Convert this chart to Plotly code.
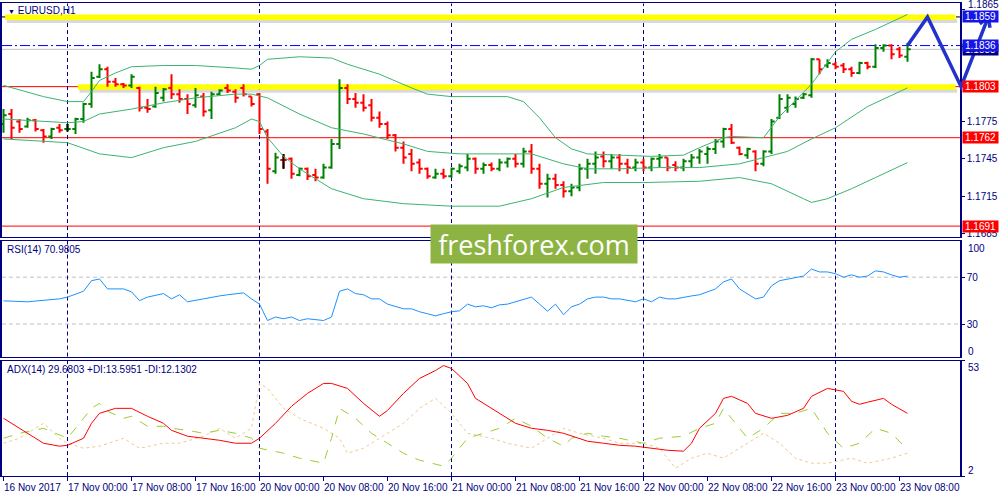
import math
import plotly.graph_objects as go

# ---------------- data ----------------
bar_idx = list(range(114))
opens = [1.1773, 1.1781, 1.1775, 1.1771, 1.1776, 1.1768, 1.1763, 1.1770, 1.1769, 1.1769,
         1.1777, 1.1789, 1.1811, 1.1817, 1.1807, 1.1805, 1.1804, 1.1802, 1.1786, 1.1787,
         1.1794, 1.1802, 1.1797, 1.1793, 1.1788, 1.1795, 1.1784, 1.1797, 1.1802, 1.1799,
         1.1802, 1.1795, 1.1797, 1.1767, 1.1735, 1.1744, 1.1745, 1.1732, 1.1737, 1.1732,
         1.1730, 1.1738, 1.1757, 1.1802, 1.1793, 1.1790, 1.1788, 1.1778, 1.1773, 1.1764,
         1.1754, 1.1749, 1.1742, 1.1737, 1.1730, 1.1733, 1.1731, 1.1735, 1.1738, 1.1745,
         1.1737, 1.1740, 1.1737, 1.1742, 1.1745, 1.1741, 1.1751, 1.1737, 1.1725, 1.1729,
         1.1724, 1.1719, 1.1722, 1.1737, 1.1741, 1.1747, 1.1743, 1.1746, 1.1741, 1.1738,
         1.1742, 1.1738, 1.1745, 1.1746, 1.1740, 1.1738, 1.1743, 1.1746, 1.1749, 1.1753,
         1.1759, 1.1769, 1.1754, 1.1748, 1.1751, 1.1741, 1.1751, 1.1778, 1.1786, 1.1789,
         1.1794, 1.1796, 1.1825, 1.1820, 1.1821, 1.1820, 1.1817, 1.1814, 1.1822, 1.1819,
         1.1834, 1.1836, 1.1833, 1.1827]
highs = [1.1785, 1.1785, 1.1777, 1.1778, 1.1777, 1.1769, 1.1770, 1.1773, 1.1773, 1.1778,
         1.1790, 1.1815, 1.1821, 1.1819, 1.1810, 1.1806, 1.1813, 1.1803, 1.1793, 1.1803,
         1.1802, 1.1813, 1.1801, 1.1797, 1.1802, 1.1798, 1.1799, 1.1801, 1.1805, 1.1801,
         1.1805, 1.1795, 1.1798, 1.1769, 1.1750, 1.1749, 1.1746, 1.1738, 1.1738, 1.1737,
         1.1741, 1.1761, 1.1809, 1.1805, 1.1798, 1.1797, 1.1793, 1.1783, 1.1775, 1.1765,
         1.1759, 1.1753, 1.1745, 1.1738, 1.1737, 1.1737, 1.1738, 1.1741, 1.1749, 1.1746,
         1.1742, 1.1742, 1.1745, 1.1746, 1.1749, 1.1754, 1.1757, 1.1741, 1.1733, 1.1733,
         1.1727, 1.1725, 1.1741, 1.1745, 1.1751, 1.1751, 1.1749, 1.1749, 1.1745, 1.1745,
         1.1745, 1.1746, 1.1749, 1.1746, 1.1743, 1.1745, 1.1749, 1.1753, 1.1755, 1.1761,
         1.1770, 1.1773, 1.1755, 1.1754, 1.1752, 1.1752, 1.1777, 1.1797, 1.1797, 1.1795,
         1.1798, 1.1826, 1.1825, 1.1825, 1.1823, 1.1822, 1.1819, 1.1823, 1.1823, 1.1837,
         1.1837, 1.1837, 1.1835, 1.1838]
lows = [1.1766, 1.1761, 1.1766, 1.1770, 1.1767, 1.1758, 1.1761, 1.1766, 1.1767, 1.1765,
        1.1774, 1.1786, 1.1810, 1.1803, 1.1803, 1.1802, 1.1802, 1.1783, 1.1782, 1.1786,
        1.1791, 1.1793, 1.1790, 1.1781, 1.1786, 1.1779, 1.1777, 1.1796, 1.1798, 1.1790,
        1.1795, 1.1787, 1.1765, 1.1725, 1.1733, 1.1737, 1.1729, 1.1731, 1.1728, 1.1727,
        1.1729, 1.1737, 1.1753, 1.1789, 1.1786, 1.1783, 1.1775, 1.1770, 1.1761, 1.1751,
        1.1741, 1.1735, 1.1733, 1.1729, 1.1729, 1.1729, 1.1730, 1.1733, 1.1735, 1.1733,
        1.1733, 1.1735, 1.1735, 1.1738, 1.1738, 1.1738, 1.1733, 1.1721, 1.1714, 1.1721,
        1.1714, 1.1715, 1.1719, 1.1729, 1.1733, 1.1738, 1.1737, 1.1735, 1.1733, 1.1735,
        1.1735, 1.1735, 1.1738, 1.1735, 1.1735, 1.1735, 1.1738, 1.1741, 1.1741, 1.1749,
        1.1754, 1.1757, 1.1748, 1.1745, 1.1735, 1.1739, 1.1749, 1.1777, 1.1782, 1.1786,
        1.1793, 1.1794, 1.1813, 1.1818, 1.1817, 1.1814, 1.1811, 1.1813, 1.1817, 1.1818,
        1.1831, 1.1825, 1.1826, 1.1823]
closes = [1.1780, 1.1770, 1.1769, 1.1776, 1.1769, 1.1763, 1.1769, 1.1768, 1.1769, 1.1777,
          1.1789, 1.1810, 1.1817, 1.1807, 1.1805, 1.1804, 1.1811, 1.1786, 1.1785, 1.1798,
          1.1801, 1.1797, 1.1793, 1.1789, 1.1796, 1.1783, 1.1797, 1.1800, 1.1800, 1.1794,
          1.1797, 1.1789, 1.1769, 1.1737, 1.1746, 1.1744, 1.1733, 1.1737, 1.1731, 1.1730,
          1.1738, 1.1757, 1.1802, 1.1793, 1.1790, 1.1786, 1.1778, 1.1773, 1.1764, 1.1754,
          1.1746, 1.1741, 1.1737, 1.1731, 1.1733, 1.1731, 1.1737, 1.1739, 1.1745, 1.1737,
          1.1740, 1.1737, 1.1742, 1.1745, 1.1741, 1.1751, 1.1737, 1.1725, 1.1729, 1.1724,
          1.1719, 1.1722, 1.1737, 1.1741, 1.1746, 1.1743, 1.1746, 1.1741, 1.1738, 1.1742,
          1.1738, 1.1745, 1.1746, 1.1738, 1.1738, 1.1743, 1.1746, 1.1751, 1.1753, 1.1759,
          1.1769, 1.1758, 1.1749, 1.1753, 1.1741, 1.1751, 1.1775, 1.1793, 1.1794, 1.1793,
          1.1797, 1.1825, 1.1817, 1.1822, 1.1819, 1.1817, 1.1814, 1.1822, 1.1819, 1.1834,
          1.1836, 1.1829, 1.1828, 1.1833]

bb_up_idx = [0, 5, 8, 10, 11, 12, 14, 16, 20, 24, 29, 31, 32, 33, 37, 41, 43, 47, 51, 53,
             56, 63, 65, 67, 69, 71, 73, 81, 85, 87, 90, 91, 95, 97, 101, 104, 106, 109, 113]
bb_up = [1.1804, 1.1795, 1.1791, 1.1791, 1.1799, 1.1808, 1.1814, 1.1819, 1.1820, 1.1820,
         1.1818, 1.1817, 1.1820, 1.1825, 1.1827, 1.1826, 1.1821, 1.1813, 1.1802, 1.1797,
         1.1795, 1.1795, 1.1791, 1.1778, 1.1762, 1.1753, 1.1749, 1.1747, 1.1748, 1.1754,
         1.1762, 1.1763, 1.1762, 1.1779, 1.1805, 1.1831, 1.1841, 1.1849, 1.1861]
bb_mid_idx = [0, 8, 10, 12, 16, 20, 24, 29, 31, 33, 37, 41, 45, 50, 53, 57, 62, 66, 70, 73,
              77, 82, 87, 92, 95, 98, 101, 104, 108, 113]
bb_mid = [1.1777, 1.1774, 1.1775, 1.1781, 1.1785, 1.1790, 1.1794, 1.1797, 1.1797, 1.1794,
          1.1781, 1.1770, 1.1765, 1.1757, 1.1751, 1.1749, 1.1749, 1.1749, 1.1741, 1.1737,
          1.1737, 1.1738, 1.1738, 1.1741, 1.1746, 1.1751, 1.1761, 1.1770, 1.1787, 1.1802]
bb_lo_idx = [0, 8, 12, 16, 20, 24, 29, 31, 32, 33, 35, 37, 41, 45, 50, 56, 62, 66, 70, 75,
             80, 87, 92, 96, 100, 101, 103, 106, 109, 113]
bb_lo = [1.1761, 1.1758, 1.1749, 1.1746, 1.1754, 1.1759, 1.1770, 1.1777, 1.1775, 1.1762,
         1.1747, 1.1737, 1.1721, 1.1713, 1.1709, 1.1707, 1.1707, 1.1713, 1.1722, 1.1726,
         1.1726, 1.1727, 1.1730, 1.1725, 1.1713, 1.1710, 1.1713, 1.1721, 1.1730, 1.1742]

# RSI(14)
rsi_idx = [0, 3, 7, 8, 10, 11, 12, 13, 15, 16, 17, 18, 20, 21, 22, 23, 25, 26, 27, 28,
           30, 31, 32, 33, 34, 35, 36, 37, 38, 40, 41, 42, 43, 44, 45, 46, 47, 48, 49, 50,
           51, 52, 53, 54, 55, 56, 57, 58, 59, 60, 61, 62, 63, 64, 65, 66, 67, 68, 69, 70,
           71, 72, 73, 74, 75, 76, 77, 78, 79, 80, 81, 82, 83, 84, 85, 86, 87, 88, 89, 90,
           91, 92, 93, 94, 95, 96, 97, 98, 99, 100, 101, 102, 103, 104, 105, 106, 107, 108,
           109, 110, 111, 112, 113]
rsi_val = [49.8, 49.0, 51.5, 53.0, 58.0, 67.0, 68.5, 60.0, 60.0, 57.5, 50.0, 53.0, 56.0,
           51.5, 55.0, 49.0, 51.5, 53.0, 54.0, 55.0, 56.6, 51.5, 47.0, 33.0, 36.0, 34.5,
           36.0, 33.0, 34.5, 33.0, 36.0, 58.0, 60.0, 56.0, 55.0, 51.5, 51.5, 47.0, 44.7,
           43.0, 43.0, 40.5, 38.8, 37.0, 38.8, 40.5, 41.3, 47.0, 44.7, 45.6, 43.9, 46.4,
           47.0, 49.0, 51.5, 53.0, 47.0, 41.0, 47.0, 38.0, 44.7, 47.0, 51.5, 53.0, 53.0,
           51.5, 51.5, 50.0, 49.0, 51.5, 49.0, 53.0, 51.5, 51.5, 53.0, 54.0, 55.0, 57.5,
           60.0, 66.0, 68.5, 60.0, 56.0, 51.5, 53.0, 62.6, 67.0, 68.5, 70.0, 71.0, 77.0,
           74.5, 74.5, 73.0, 70.0, 72.0, 70.0, 71.0, 75.4, 74.5, 72.0, 70.0, 70.9805]

# ADX(14), +DI, -DI
adx_idx = [0, 2, 5, 7, 8, 10, 11, 12, 14, 16, 18, 20, 21, 23, 25, 27, 29, 31, 32, 34,
           36, 38, 40, 41, 43, 45, 47, 48, 50, 52, 54, 55, 56, 58, 59, 61, 63, 64, 66, 68,
           70, 72, 73, 75, 77, 79, 81, 83, 85, 86, 87, 89, 90, 91, 93, 94, 96, 98, 100,
           101, 103, 105, 106, 107, 108, 110, 111, 113]
adx_val = [27.5, 23.1, 16.5, 15.2, 15.6, 18.7, 25.3, 29.7, 31.9, 31.9, 28.4, 25.3, 22.2,
           19.6, 18.7, 17.8, 16.5, 16.5, 18.7, 25.3, 32.8, 38.5, 42.9, 42.9, 40.7, 34.1,
           28.4, 31.0, 38.5, 45.1, 48.6, 50.8, 49.5, 42.9, 36.3, 31.9, 27.5, 25.3, 23.1,
           22.2, 20.9, 18.7, 17.4, 16.5, 15.6, 15.2, 14.3, 13.4, 13.0, 16.5, 23.1, 29.7,
           36.3, 37.2, 34.1, 29.7, 27.5, 28.8, 31.9, 37.2, 40.7, 39.4, 35.0, 33.7, 34.6,
           36.3, 33.7, 29.6803]
pdi_idx = [0, 2, 5, 8, 10, 11, 12, 13, 15, 16, 18, 20, 21, 23, 25, 27, 29, 31, 32, 35,
           37, 40, 41, 42, 44, 46, 48, 50, 52, 55, 56, 58, 60, 62, 64, 66, 68, 70, 71, 73,
           75, 77, 80, 82, 85, 87, 89, 90, 91, 93, 95, 97, 99, 101, 103, 105, 107, 109,
           111, 113]
pdi_val = [18.7, 20.9, 23.1, 18.7, 27.5, 31.9, 34.1, 30.6, 27.5, 28.4, 24.0, 24.0, 23.1,
           22.2, 20.9, 22.2, 20.9, 18.7, 14.3, 12.1, 9.9, 7.7, 18.7, 31.9, 27.5, 20.9, 16.5,
           12.1, 9.0, 6.4, 9.9, 18.7, 20.9, 23.1, 27.5, 24.0, 18.7, 15.2, 18.7, 20.9, 19.6,
           18.7, 16.5, 18.7, 19.6, 23.1, 25.3, 31.9, 27.5, 18.7, 23.1, 29.7, 29.7, 31.9,
           20.9, 14.3, 16.5, 23.1, 20.9, 13.5951]
mdi_idx = [0, 2, 5, 7, 8, 10, 12, 15, 17, 20, 22, 25, 27, 29, 31, 32, 33, 35, 37, 40, 42,
           43, 45, 47, 50, 52, 54, 56, 58, 61, 63, 66, 68, 70, 72, 75, 77, 80, 82, 84, 86,
           88, 90, 92, 95, 97, 99, 101, 103, 106, 108, 111, 113]
mdi_val = [16.5, 18.7, 25.3, 18.7, 16.5, 14.3, 15.2, 18.7, 14.3, 16.5, 16.5, 19.6, 23.1,
           18.7, 23.1, 42.9, 40.7, 31.9, 27.5, 23.1, 18.7, 12.1, 14.3, 18.7, 25.3, 31.9,
           36.3, 29.7, 20.9, 18.7, 16.5, 14.3, 18.7, 23.1, 20.9, 18.7, 16.5, 16.5, 14.3,
           5.5, 9.9, 12.1, 9.9, 14.3, 20.9, 16.5, 9.9, 7.7, 7.7, 9.9, 7.7, 9.9, 12.1302]

# x-axis time ticks
tick_idx = [0, 8, 16, 24, 32, 40, 48, 56, 64, 72, 80, 88, 96, 104, 112]
tick_labels = ["16 Nov 2017", "17 Nov 00:00", "17 Nov 08:00", "17 Nov 16:00",
               "20 Nov 00:00", "20 Nov 08:00", "20 Nov 16:00", "21 Nov 00:00",
               "21 Nov 08:00", "21 Nov 16:00", "22 Nov 00:00", "22 Nov 08:00",
               "22 Nov 16:00", "23 Nov 00:00", "23 Nov 08:00"]
day_sep_idx = [8, 32, 56, 80, 104]
price_ticks = [1.1685, 1.1715, 1.1745, 1.1775, 1.1805, 1.1835, 1.1865]

# levels
level_target = 1.1859
level_entry = 1.1836
level_bid = 1.1833
level_support = 1.1803
level_red = [1.1762, 1.1691]
rsi_levels = [70, 30]

# forecast arrow path (bar index, price)
arrow_idx = [113, 115.5, 119.7, 123.1]
arrow_price = [1.1836, 1.1859, 1.1803, 1.1859]

# ---------------- geometry ----------------
NAVY = "#000080"
FONT = "Liberation Sans, Arial, sans-serif"
XPX0, XPX1 = 2, 960
X_RANGE = [-0.1875, 119.5625]
MAIN_DOM = [1 - 238 / 500, 1 - 3.5 / 500]
RSI_DOM = [1 - 358 / 500, 1 - 242 / 500]
ADX_DOM = [1 - 478 / 500, 1 - 362 / 500]
PRICE_RANGE = [1.16822, 1.18698]
RSI_RANGE = [2.2, 100.9]
ADX_RANGE = [2, 53]
SEP_DASH = "4px,3px"
DASHDOT = "10px,3px,2px,3px"

label_levels = [level_bid, level_entry, level_target, level_support] + level_red


def to_paper(i, p):
    px = XPX0 + (i - X_RANGE[0]) / (X_RANGE[1] - X_RANGE[0]) * (XPX1 - XPX0)
    py = MAIN_DOM[0] + (p - PRICE_RANGE[0]) / (PRICE_RANGE[1] - PRICE_RANGE[0]) * (MAIN_DOM[1] - MAIN_DOM[0])
    return px / 1000, py


fig = go.Figure()

for xi, yv in [(bb_up_idx, bb_up), (bb_mid_idx, bb_mid), (bb_lo_idx, bb_lo)]:
    fig.add_trace(go.Scatter(x=xi, y=yv, mode="lines", line=dict(color="#3cb371", width=1),
                             xaxis="x", yaxis="y", hoverinfo="skip"))

fig.add_trace(go.Ohlc(x=bar_idx, open=opens, high=highs, low=lows, close=closes,
                      increasing=dict(line=dict(color="#008000", width=2)),
                      decreasing=dict(line=dict(color="#ff0000", width=2)),
                      tickwidth=0.4, xaxis="x", yaxis="y"))
doji = [k for k in bar_idx if opens[k] == closes[k]]
if doji:
    gaps = [b - a for a, b in zip(doji[:-1], doji[1:])] or [1]
    fig.add_trace(go.Ohlc(x=doji, open=[opens[k] for k in doji], high=[highs[k] for k in doji],
                          low=[lows[k] for k in doji], close=[closes[k] for k in doji],
                          increasing=dict(line=dict(color="#000000", width=2)),
                          decreasing=dict(line=dict(color="#000000", width=2)),
                          tickwidth=min(0.5, 0.4 / min(gaps)), xaxis="x", yaxis="y"))

fig.add_trace(go.Scatter(x=rsi_idx, y=rsi_val, mode="lines", line=dict(color="#1e90ff", width=1),
                         xaxis="x2", yaxis="y2", hoverinfo="skip"))
fig.add_trace(go.Scatter(x=mdi_idx, y=mdi_val, mode="lines", line=dict(color="#f0c890", width=1, dash="dot"),
                         xaxis="x3", yaxis="y3", hoverinfo="skip"))
fig.add_trace(go.Scatter(x=pdi_idx, y=pdi_val, mode="lines", line=dict(color="#9acd32", width=1, dash="dash"),
                         xaxis="x3", yaxis="y3", hoverinfo="skip"))
fig.add_trace(go.Scatter(x=adx_idx, y=adx_val, mode="lines", line=dict(color="#ff0000", width=1),
                         xaxis="x3", yaxis="y3", hoverinfo="skip"))

shapes = []
for lv in level_red:
    shapes.append(dict(type="line", xref="x domain", yref="y", x0=0, x1=1, y0=lv, y1=lv,
                       line=dict(color="#ff0000", width=1), layer="below"))
ppx = (PRICE_RANGE[1] - PRICE_RANGE[0]) / (238 - 3.5)  # price per pixel
for lv, xstart in [(level_target, 0.2), (level_support, 9.3)]:
    shapes.append(dict(type="rect", xref="x", yref="y", x0=xstart + 0.2, x1=119.2,
                       y0=lv - 6 * ppx, y1=lv - 2 * ppx, fillcolor="rgba(0,0,0,0.15)",
                       line=dict(width=0), layer="below"))
    shapes.append(dict(type="rect", xref="x", yref="y", x0=xstart, x1=119.0,
                       y0=lv - 3 * ppx, y1=lv + 2.5 * ppx, fillcolor="#ffff00",
                       line=dict(width=0), layer="below"))
shapes.append(dict(type="line", xref="x domain", yref="y", x0=0, x1=1, y0=level_support, y1=level_support,
                   line=dict(color="#ff0000", width=1), layer="below"))
shapes.append(dict(type="line", xref="x domain", yref="y", x0=0, x1=1, y0=level_target, y1=level_target,
                   line=dict(color="#000000", width=1, dash=DASHDOT), layer="below"))
shapes.append(dict(type="line", xref="x domain", yref="y", x0=0, x1=1, y0=level_bid, y1=level_bid,
                   line=dict(color="#c0c0c0", width=1), layer="below"))
shapes.append(dict(type="line", xref="x domain", yref="y", x0=0, x1=1, y0=level_entry, y1=level_entry,
                   line=dict(color="#0000ff", width=1, dash=DASHDOT), layer="below"))
for lv in rsi_levels:
    shapes.append(dict(type="line", xref="x2 domain", yref="y2", x0=0, x1=1, y0=lv, y1=lv,
                       line=dict(color="#c0c0c0", width=1, dash=SEP_DASH), layer="below"))
for d in day_sep_idx:
    for xr, yr in [("x", "y domain"), ("x2", "y2 domain"), ("x3", "y3 domain")]:
        shapes.append(dict(type="line", xref=xr, yref=yr, x0=d, x1=d, y0=0, y1=1,
                           line=dict(color=NAVY, width=1, dash=SEP_DASH), layer="below"))
pts = [to_paper(i, p) for i, p in zip(arrow_idx, arrow_price)]
path = "M " + " L ".join(f"{x:.4f},{y:.4f}" for x, y in pts)
ARROW = "#2233cc"
shapes.append(dict(type="path", xref="paper", yref="paper", path=path,
                   line=dict(color=ARROW, width=3.5)))
(xa, ya), (xb, yb) = pts[-2], pts[-1]
dxp, dyp = (xb - xa) * 1000, (yb - ya) * 500
ang = math.atan2(dyp, dxp)
for da in (math.radians(150), math.radians(-150)):
    hx = xb + 11 * math.cos(ang + da) / 1000
    hy = yb + 11 * math.sin(ang + da) / 500
    shapes.append(dict(type="line", xref="paper", yref="paper", x0=xb, y0=yb, x1=hx, y1=hy,
                       line=dict(color=ARROW, width=3.5)))

annotations = []
for lv, bg in zip(label_levels, [NAVY, "#1515e6", "#1515e6", "#ff0000", "#ff0000", "#ff0000"]):
    annotations.append(dict(x=0.9615, xref="paper", y=lv, yref="y", xanchor="left", yanchor="middle",
                            text=f"{lv:.4f}", showarrow=False, bgcolor=bg, borderpad=0,
                            width=35, height=11, font=dict(family=FONT, size=10, color="white")))
# edge labels that the terminal pushes inside the panel
edge_labels = [(f"{price_ticks[-1]:.4f}", 5), ("100", 249), ("0", 353),
               (str(ADX_RANGE[1]), 369), (str(ADX_RANGE[0]), 472)]
for txt, ypx in edge_labels:
    annotations.append(dict(x=0.966, xref="paper", y=1 - ypx / 500, yref="paper", xanchor="left",
                            yanchor="middle", text=txt, showarrow=False,
                            font=dict(family=FONT, size=10, color=NAVY)))
for ti, tl in zip(tick_idx, tick_labels):
    annotations.append(dict(x=ti, xref="x3", y=1 - 489 / 500, yref="paper", xanchor="left",
                            yanchor="middle", text=tl, showarrow=False, xshift=-2,
                            font=dict(family=FONT, size=10, color=NAVY)))
annotations.append(dict(x=0.006, xref="paper", y=1 - 11 / 500, yref="paper", xanchor="left",
                        yanchor="middle", text="<span style='font-size:7px'>▼</span> EURUSD,H1",
                        showarrow=False, font=dict(family=FONT, size=10, color=NAVY)))
annotations.append(dict(x=0.005, xref="paper", y=1 - 251 / 500, yref="paper", xanchor="left",
                        yanchor="middle", text=f"RSI(14) {rsi_val[-1]:.4f}",
                        showarrow=False, font=dict(family=FONT, size=10, color=NAVY)))
annotations.append(dict(x=0.005, xref="paper", y=1 - 371 / 500, yref="paper", xanchor="left",
                        yanchor="middle",
                        text=f"ADX(14) {adx_val[-1]:.4f} +DI:{pdi_val[-1]:.4f} -DI:{mdi_val[-1]:.4f}",
                        showarrow=False, font=dict(family=FONT, size=10, color=NAVY)))
annotations.append(dict(x=534 / 1000, xref="paper", y=1 - 245 / 500, yref="paper",
                        xanchor="center", yanchor="middle", text="freshforex.com", showarrow=False,
                        bgcolor="#8db443", borderpad=0, width=206, height=38,
                        font=dict(family="Open Sans, sans-serif", size=27, color="white")))

# axis tick texts hidden where a price label box covers them, and for the top edge label
tick_text = ["" if (any(abs(t - lv) < 0.0004 for lv in label_levels[:4]) or t == price_ticks[-1])
             else f"{t:.4f}" for t in price_ticks]

ax_x = dict(showgrid=False, zeroline=False, showline=True, mirror=True,
            linecolor=NAVY, linewidth=1)
ax_y = dict(showgrid=False, zeroline=False, showline=True, mirror=True,
            linecolor=NAVY, linewidth=1.5)
fig.update_layout(
    width=1000, height=500, autosize=False,
    margin=dict(l=0, r=0, t=0, b=0),
    paper_bgcolor="white", plot_bgcolor="white",
    showlegend=False, hovermode=False,
    font=dict(family=FONT, size=10, color=NAVY),
    xaxis=dict(domain=[XPX0 / 1000, XPX1 / 1000], range=X_RANGE, anchor="y",
               showticklabels=False, ticks="", rangeslider=dict(visible=False), **ax_x),
    xaxis2=dict(domain=[XPX0 / 1000, XPX1 / 1000], range=X_RANGE, anchor="y2", matches="x",
                showticklabels=False, ticks="", **ax_x),
    xaxis3=dict(domain=[XPX0 / 1000, XPX1 / 1000], range=X_RANGE, anchor="y3", matches="x",
                tickvals=tick_idx, showticklabels=False, ticks="outside", ticklen=4,
                tickcolor=NAVY, tickwidth=1, **ax_x),
    yaxis=dict(domain=MAIN_DOM, range=PRICE_RANGE, anchor="x", side="right",
               tickvals=price_ticks, ticktext=tick_text,
               ticks="outside", ticklen=3, tickcolor=NAVY,
               tickfont=dict(family=FONT, size=10, color=NAVY), **ax_y),
    yaxis2=dict(domain=RSI_DOM, range=RSI_RANGE, anchor="x2", side="right",
                tickvals=rsi_levels, ticks="outside", ticklen=3, tickcolor=NAVY,
                tickfont=dict(family=FONT, size=10, color=NAVY), **ax_y),
    yaxis3=dict(domain=ADX_DOM, range=ADX_RANGE, anchor="x3", side="right",
                tickvals=ADX_RANGE, showticklabels=False, ticks="outside", ticklen=3,
                tickcolor=NAVY, **ax_y),
    shapes=shapes, annotations=annotations,
)

fig.write_html("out.html", config={"displayModeBar": False},
               post_script="document.body.style.margin='0';document.body.style.overflow='hidden';")
